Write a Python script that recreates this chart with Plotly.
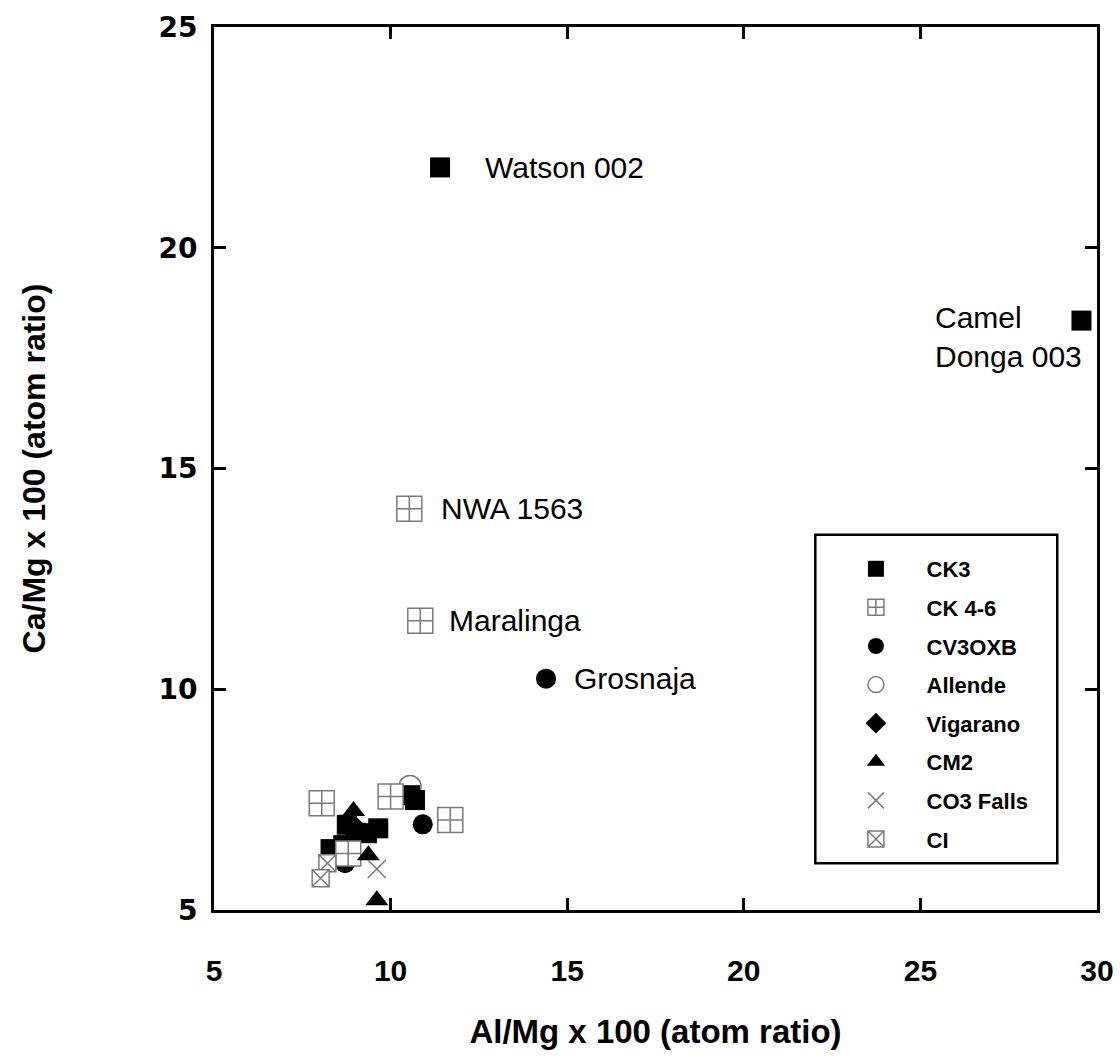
import plotly.graph_objects as go

# ---- data (Al/Mg x100, Ca/Mg x100) ----
ck3_x = [11.4, 29.56, 10.55, 10.69, 8.76, 9.65, 9.33, 8.3, 8.66, 9.0]
ck3_y = [21.82, 18.35, 7.6, 7.49, 6.93, 6.85, 6.74, 6.38, 6.47, 6.75]

ck46_x = [10.53, 10.84, 8.05, 10.0, 11.69, 8.8]
ck46_y = [14.09, 11.55, 7.42, 7.57, 7.04, 6.28]

cv3oxb_x = [14.4, 10.91, 8.71]
cv3oxb_y = [10.24, 6.94, 6.06]

allende_x = [10.55]
allende_y = [7.8]

vigarano_x = [9.05]
vigarano_y = [6.8]

cm2_x = [8.95, 9.37, 9.61]
cm2_y = [7.24, 6.24, 5.22]

co3_x = [9.61]
co3_y = [5.93]

ci_x = [8.21, 8.02]
ci_y = [6.06, 5.72]

x_ticks = [5, 10, 15, 20, 25, 30]
y_ticks = [5, 10, 15, 20, 25]

labels = [
    ("Watson 002", 12.62, 21.82, "left"),
    ("NWA 1563", 11.37, 14.09, "left"),
    ("Maralinga", 11.59, 11.55, "left"),
    ("Grosnaja", 15.13, 10.24, "left"),
    ("Camel<br>Donga 003", 29.62, 17.97, "right"),
]

GRAY = "#7a7a7a"
NB = "\u00a0" * 5

fig = go.Figure()

def add(name, xs, ys, symbol, size, color, line_color, line_width, rank):
    fig.add_trace(go.Scatter(
        x=xs, y=ys, mode="markers", name=NB + name,
        legendgroup=name, legendrank=rank,
        marker=dict(symbol=symbol, size=size, color=color,
                    line=dict(color=line_color, width=line_width)),
    ))

add("CV3OXB", cv3oxb_x, cv3oxb_y, "circle", 20, "black", "black", 0, 3)
add("Allende", allende_x, allende_y, "circle-open", 22, GRAY, GRAY, 1.5, 4)
add("Vigarano", vigarano_x, vigarano_y, "diamond", 20, "black", "black", 0, 5)
add("CK3", ck3_x, ck3_y, "square", 20, "black", "black", 0, 1)
add("CK 4-6", ck46_x, ck46_y, "square-cross", 25, "white", GRAY, 1.5, 2)
add("CM2", cm2_x, cm2_y, "triangle-up", 20, "black", "black", 0, 6)
add("CO3 Falls", co3_x, co3_y, "x-thin-open", 18, GRAY, GRAY, 1.5, 7)
add("CI", ci_x, ci_y, "square-x", 17, "white", GRAY, 1.5, 8)

for text, lx, ly, side in labels:
    fig.add_annotation(
        x=lx, y=ly, xref="x", yref="y", text=text, showarrow=False,
        xanchor=side, yanchor="middle", align="left",
        font=dict(family="Liberation Sans, Arial", size=30, color="black"),
    )

# legend frame
fig.add_shape(type="rect", xref="paper", yref="paper",
              x0=0.681, x1=0.955, y0=0.053, y1=0.425,
              line=dict(color="black", width=2.5), fillcolor="rgba(0,0,0,0)")

axis_common = dict(
    showline=True, linewidth=3, linecolor="black", mirror="ticks",
    ticks="inside", ticklen=12, tickwidth=3, tickcolor="black",
    showgrid=False, zeroline=False,
)

fig.update_xaxes(
    range=[5, 30], tickvals=x_ticks, ticktext=[str(v) for v in x_ticks],
    ticklabelstandoff=32,
    tickfont=dict(family="Liberation Sans, Arial", size=30, color="black", weight="bold"),
    title=dict(text="<b>Al/Mg x 100 (atom ratio)</b>", standoff=34,
               font=dict(family="Liberation Sans, Arial", size=33, color="black")),
    **axis_common,
)
fig.update_yaxes(
    range=[5, 25], tickvals=y_ticks, ticktext=[str(v) for v in y_ticks],
    ticklabelstandoff=8,
    tickfont=dict(family="DejaVu Sans", size=28, color="black", weight="bold"),
    title=dict(text="<b>Ca/Mg x 100 (atom ratio)</b>", standoff=104,
               font=dict(family="Liberation Sans, Arial", size=32, color="black")),
    **axis_common,
)

fig.update_layout(
    width=1120, height=1062,
    margin=dict(l=214, r=23, t=27, b=152, autoexpand=False),
    plot_bgcolor="white", paper_bgcolor="white",
    showlegend=True,
    legend=dict(
        x=0.727, y=0.41, xanchor="left", yanchor="top",
        bgcolor="rgba(0,0,0,0)", borderwidth=0,
        tracegroupgap=7, traceorder="grouped",
        font=dict(family="Liberation Sans, Arial", size=22, color="black", weight="bold"),
    ),
)

fig.write_html("out.html")
